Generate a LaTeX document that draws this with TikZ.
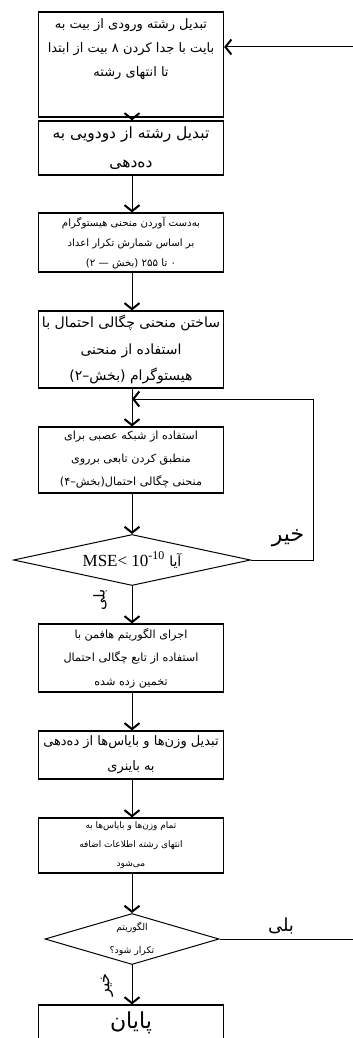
\documentclass[tikz,border=0pt]{standalone}
\usepackage{fontspec}
\usetikzlibrary{shapes.geometric}
\usetikzlibrary{arrows.meta}
\TeXXeTstate=1
\newfontfamily\farsifont[Script=Arabic]{DejaVu Sans}
\newfontfamily\latinfont{Liberation Serif}
\newcommand{\fa}[1]{\beginR#1\endR}
\tikzset{
  step-box/.style={draw, line width=1.2pt, rectangle, minimum width=185pt, align=center, inner sep=2pt},
  test-box/.style n args={3}{draw, line width=1pt, diamond, aspect=#3, minimum width=#1, minimum height=#2, inner sep=0pt, align=center},
  fa-size/.style 2 args={font=\farsifont\fontsize{#1}{#2}\selectfont},
  flow-line/.style={line width=1pt},
  flow-path/.style={flow-line, -{Straight Barb[length=6pt, width=15pt, line width=2pt]}},
  answer/.style={inner sep=1pt},
}
\begin{document}
\begin{tikzpicture}[x=1pt, y=-1pt]
\useasboundingbox (0,0) rectangle (353,1038);
\clip (0,0) rectangle (353,1038);
% steps
\node[step-box, minimum height=105pt, fa-size={13}{24}] (to-bytes) at (131,64.5)
  {\fa{تبدیل رشته ورودی از بیت به}\\ \fa{بایت با جدا کردن ۸ بیت از ابتدا}\\ \fa{تا انتهای رشته}\\[10pt]\mbox{}};
\node[step-box, minimum height=54pt, fa-size={15.5}{29}] (to-decimal) at (131,148)
  {\fa{تبدیل رشته از دودویی به}\\ \fa{ده‌دهی}};
\node[step-box, minimum height=59pt, fa-size={10.2}{20}] (histogram) at (131,242.5)
  {\fa{به‌دست آوردن منحنی هیستوگرام}\\ \fa{بر اساس شمارش تکرار اعداد}\\ \fa{۰ تا ۲۵۵ (بخش — ۲)}};
\node[step-box, minimum height=77pt, fa-size={14}{26.5}] (density) at (131,349.5)
  {\fa{ساختن منحنی چگالی احتمال با}\\ \fa{استفاده از منحنی}\\ \fa{هیستوگرام (بخش–۲)}};
\node[step-box, minimum height=66pt, fa-size={11.2}{23}] (neural-fit) at (131,460)
  {\fa{استفاده از شبکه عصبی برای}\\ \fa{منطبق کردن تابعی برروی}\\ \fa{منحنی چگالی احتمال(بخش–۴)}};
\node[test-box={237pt}{51pt}{4.65}, fa-size={14}{17}] (mse-test) at (132,560)
  {\fa{آیا \beginL{\latinfont\fontsize{17}{17}\selectfont MSE< 10\textsuperscript{-10}}\endL}};
\node[step-box, minimum height=68pt, fa-size={11.2}{23.5}] (huffman) at (131,658)
  {\fa{اجرای الگوریتم هافمن با}\\ \fa{استفاده از تابع چگالی احتمال}\\ \fa{تخمین زده شده}};
\node[step-box, minimum height=48pt, fa-size={13}{25}] (to-binary) at (131,755)
  {\fa{تبدیل وزن‌ها و بایاس‌ها از ده‌دهی}\\ \fa{به باینری}};
\node[step-box, minimum height=55pt, fa-size={9}{19}] (append) at (131,845.5)
  {\fa{تمام وزن‌ها و بایاس‌ها به}\\ \fa{انتهای رشته اطلاعات اضافه}\\ \fa{می‌شود}};
\node[test-box={174pt}{51pt}{3.41}, fa-size={9.3}{23}] (repeat-test) at (132,939)
  {\fa{الگوریتم}\\ \fa{تکرار شود؟}};
\node[step-box, minimum height=36pt, fa-size={22}{22}] (finish) at (131,1023)
  {\fa{پایان}};
% answers
\node[answer, rotate=90, fa-size={15}{15}] (yes-mse) at (100,600) {\fa{بلی}};
\node[answer, rotate=90, fa-size={16}{16}] (no-repeat) at (107,985) {\fa{خیر}};
\node[answer, fa-size={22}{22}] (no-mse) at (288,538) {\fa{خیر}};
\node[answer, fa-size={18}{18}] (yes-repeat) at (281,926) {\fa{بلی}};
% connectors
\coordinate (loop-in) at (353,47);
\coordinate (retry-top) at (313,399);
\coordinate (loop-out) at (353,939);
\draw[flow-path] (loop-in) -- (loop-in -| to-bytes.east);
\draw[flow-path] (to-bytes.south -| mse-test) -- (to-decimal.north -| mse-test);
\draw[flow-path] (to-decimal.south -| mse-test) -- (histogram.north -| mse-test);
\draw[flow-path] (histogram.south -| mse-test) -- (density.north -| mse-test);
\draw[flow-path] (density.south -| mse-test) -- (neural-fit.north -| mse-test);
\draw[flow-path] (neural-fit.south -| mse-test) -- (mse-test);
\draw[flow-path] (mse-test) -- (huffman.north -| mse-test);
\draw[flow-path] (huffman.south -| mse-test) -- (to-binary.north -| mse-test);
\draw[flow-path] (to-binary.south -| mse-test) -- (append.north -| mse-test);
\draw[flow-path] (append.south -| repeat-test) -- (repeat-test);
\draw[flow-path] (repeat-test) -- (finish.north -| repeat-test);
\draw[flow-path] (mse-test.east) -| (retry-top) -- (retry-top -| mse-test);
\draw[flow-line] (repeat-test.east) -- (loop-out);
\end{tikzpicture}
\end{document}
